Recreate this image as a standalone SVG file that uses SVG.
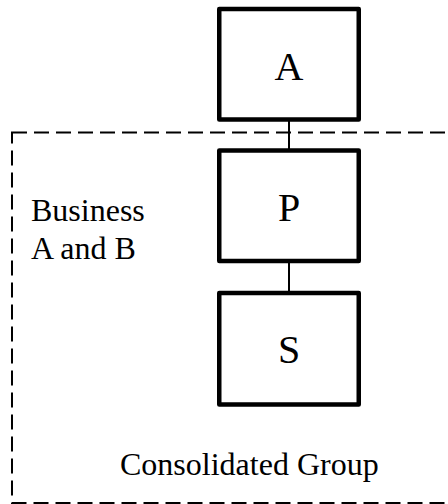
<svg xmlns="http://www.w3.org/2000/svg" width="448" height="504" viewBox="0 0 448 504">
<style>
.box{fill:#fff;stroke:#000;stroke-width:4.5;stroke-linejoin:round}
.lbl{font-family:"Liberation Serif","Times New Roman",serif;fill:#000}
.big{font-size:40px;text-anchor:middle}
.mid{font-size:32px}
.conn{stroke:#000;stroke-width:2;fill:none}
.group{fill:none;stroke:#000;stroke-width:2;stroke-dasharray:15 7}
</style>
<rect class="group" x="12" y="132.5" width="460" height="370.5"/>
<g id="connectors">
<line class="conn" x1="289" y1="120" x2="289" y2="150"/>
<line class="conn" x1="289" y1="261" x2="289" y2="293"/>
</g>
<g id="A">
<rect class="box" x="219.25" y="9" width="139.5" height="110.5"/>
<text class="lbl big" x="289" y="80">A</text>
</g>
<g id="P">
<rect class="box" x="219.25" y="150.5" width="139.5" height="110.5"/>
<text class="lbl big" x="289" y="221">P</text>
</g>
<g id="S">
<rect class="box" x="219.25" y="293" width="139.5" height="111.5"/>
<text class="lbl big" x="289" y="363">S</text>
</g>
<g id="labels">
<text class="lbl mid" x="31" y="221">Business</text>
<text class="lbl mid" x="31" y="259">A and B</text>
<text class="lbl mid" x="120" y="475">Consolidated Group</text>
</g>
</svg>
